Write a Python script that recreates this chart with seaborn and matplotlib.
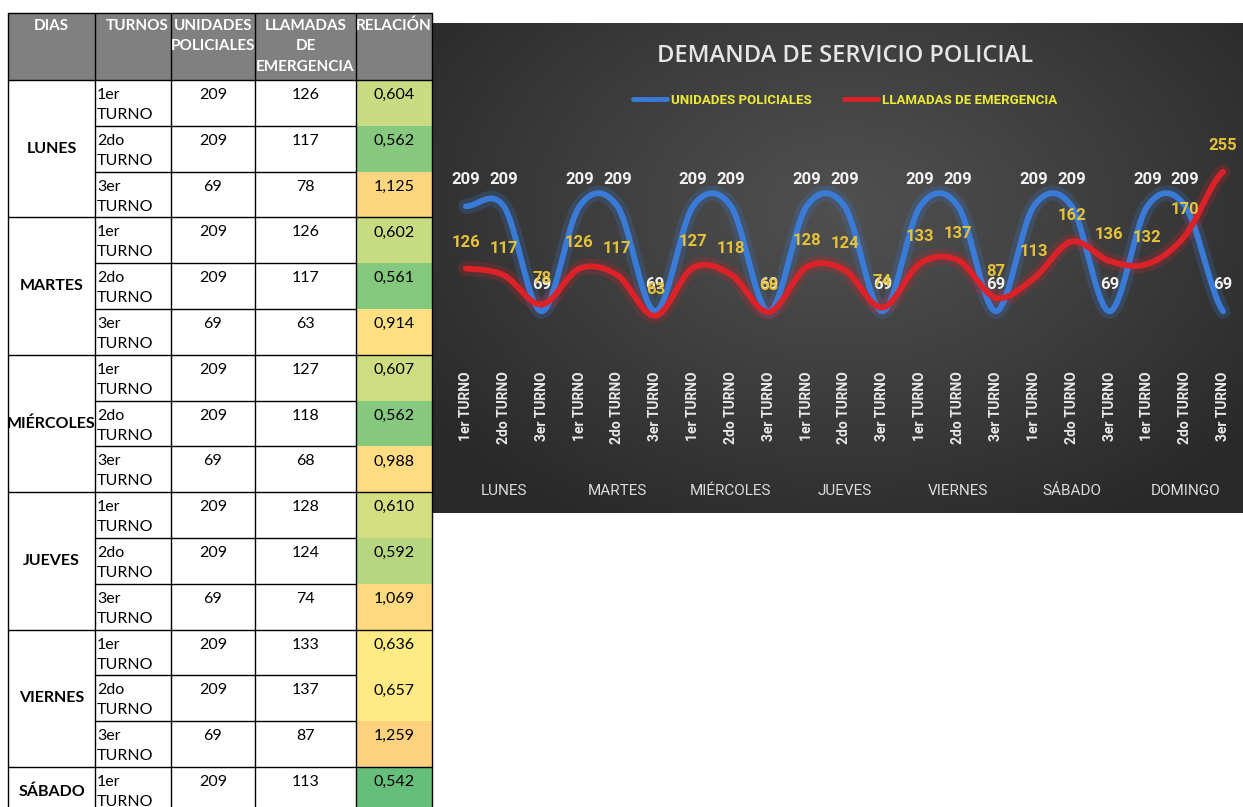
import numpy as np
import pandas as pd
import matplotlib
matplotlib.use("Agg")
import matplotlib.pyplot as plt
import seaborn as sns
from matplotlib.patches import Rectangle
from matplotlib.lines import Line2D

# ---------------- data ----------------
dias = ["LUNES", "MARTES", "MIÉRCOLES", "JUEVES", "VIERNES", "SÁBADO", "DOMINGO"]
turnos = ["1er TURNO", "2do TURNO", "3er TURNO"]
unidades = [209, 209, 69, 209, 209, 69, 209, 209, 69, 209, 209, 69,
            209, 209, 69, 209, 209, 69, 209, 209, 69]
llamadas = [126, 117, 78, 126, 117, 63, 127, 118, 68, 128, 124, 74,
            133, 137, 87, 113, 162, 136, 132, 170, 255]

tabla_dias = ["LUNES", "MARTES", "MIÉRCOLES", "JUEVES", "VIERNES", "SÁBADO"]
tabla_turnos = ["1er\nTURNO", "2do\nTURNO", "3er\nTURNO"]
tabla_unidades = [209, 209, 69, 209, 209, 69, 209, 209, 69, 209, 209, 69, 209, 209, 69, 209]
tabla_llamadas = [126, 117, 78, 126, 117, 63, 127, 118, 68, 128, 124, 74, 133, 137, 87, 113]
tabla_relacion = [0.604, 0.562, 1.125, 0.602, 0.561, 0.914, 0.607, 0.562, 0.988,
                  0.610, 0.592, 1.069, 0.636, 0.657, 1.259, 0.542]
encabezados = ["DIAS", "TURNOS", "UNIDADES\nPOLICIALES", "LLAMADAS\nDE\nEMERGENCIA", "RELACIÓN"]

sns.set_theme(style="white")
NARROW = ["Roboto", "DejaVu Sans"]
TABLE_FONT = ["Lato", "DejaVu Sans"]

W, H = 1243, 807
fig = plt.figure(figsize=(W / 100, H / 100), dpi=100)
fig.patch.set_facecolor("white")

# background axes in pixel coordinates
bg = fig.add_axes([0, 0, 1, 1])
bg.set_xlim(0, W)
bg.set_ylim(H, 0)
bg.axis("off")

# ---------------- chart background (radial gradient) ----------------
cx0, cx1, cy0, cy1 = 432, 1243, 23, 513
gx = np.linspace(cx0, cx1, 400)
gy = np.linspace(cy0, cy1, 250)
GX, GY = np.meshgrid(gx, gy)
d = np.sqrt(((GX - 845) / 520) ** 2 + ((GY - 210) / 360) ** 2)
d = np.clip(d, 0, 1)
val = (0x50 + (0x29 - 0x50) * d ** 1.1) / 255.0
img = np.dstack([val, val, val])
bg.imshow(img, extent=(cx0, cx1, cy1, cy0), aspect="auto", zorder=0, interpolation="bilinear")
bg.set_xlim(0, W)
bg.set_ylim(H, 0)

# ---------------- table ----------------
colx = [8, 95, 171, 255, 356, 432]
head_top, head_bot = 13, 80
row_h = 45.8
nrows = len(tabla_relacion)

ratios = np.array(llamadas) / np.array(unidades)
rmin, rmid, rmax = ratios.min(), np.median(ratios), ratios.max()
green = np.array([0x63, 0xBE, 0x7B]) / 255
yellow = np.array([0xFF, 0xEB, 0x84]) / 255
red = np.array([0xF8, 0x69, 0x6B]) / 255


def scale_color(v):
    if v <= rmid:
        t = np.clip((v - rmin) / (rmid - rmin), 0, 1)
        return green + t * (yellow - green)
    t = np.clip((v - rmid) / (rmax - rmid), 0, 1)
    return yellow + t * (red - yellow)


bg.add_patch(Rectangle((colx[0], head_top), colx[-1] - colx[0], head_bot - head_top,
                       facecolor="#808080", edgecolor="none", zorder=1))
for i, v in enumerate(tabla_relacion):
    top = head_bot + i * row_h
    bg.add_patch(Rectangle((colx[4], top), colx[5] - colx[4], row_h,
                           facecolor=scale_color(v), edgecolor="none", zorder=1))

lw = 1.0
bottom = H + 5
for x in colx:
    bg.plot([x, x], [head_top, bottom], color="black", lw=lw, zorder=3)
bg.plot([colx[0], colx[-1]], [head_top, head_top], color="black", lw=lw, zorder=3)
bg.plot([colx[0], colx[-1]], [head_bot, head_bot], color="black", lw=lw, zorder=3)
for i in range(1, nrows + 1):
    y = head_bot + i * row_h
    if i % 3 == 0:
        bg.plot([colx[0], colx[-1]], [y, y], color="black", lw=lw, zorder=3)
    else:
        bg.plot([colx[1], colx[4]], [y, y], color="black", lw=lw, zorder=3)

# header text
hfs = 11
bg.text((colx[0] + colx[1]) / 2, 26, encabezados[0], ha="center", va="center", color="white",
        fontsize=hfs, fontweight="bold", family=TABLE_FONT, zorder=4)
bg.text(colx[2] - 2, 26, encabezados[1], ha="right", va="center", color="white",
        fontsize=hfs, fontweight="bold", family=TABLE_FONT, zorder=4)
for c in (2, 3, 4):
    for j, line in enumerate(encabezados[c].split("\n")):
        bg.text((colx[c] + colx[c + 1]) / 2, 26 + j * 20.5, line, ha="center", va="center",
                color="white", fontsize=hfs, fontweight="bold", family=TABLE_FONT, zorder=4)

# body
bfs = 11.5
for i in range(nrows):
    top = head_bot + i * row_h
    t1, t2 = tabla_turnos[i % 3].split("\n")
    bg.text(colx[1] + 2, top + 15, t1, ha="left", va="center", fontsize=bfs,
            family=TABLE_FONT, color="black", zorder=4)
    bg.text(colx[1] + 2, top + 35, t2, ha="left", va="center", fontsize=bfs,
            family=TABLE_FONT, color="black", zorder=4)
    bg.text((colx[2] + colx[3]) / 2, top + 15, str(tabla_unidades[i]), ha="center", va="center",
            fontsize=bfs, family=TABLE_FONT, color="black", zorder=4)
    bg.text((colx[3] + colx[4]) / 2, top + 15, str(tabla_llamadas[i]), ha="center", va="center",
            fontsize=bfs, family=TABLE_FONT, color="black", zorder=4)
    bg.text((colx[4] + colx[5]) / 2, top + 15, f"{tabla_relacion[i]:.3f}".replace(".", ","),
            ha="center", va="center", fontsize=bfs, family=TABLE_FONT, color="black", zorder=4)

for k, dname in enumerate(tabla_dias):
    top = head_bot + 3 * k * row_h
    yc = top + 1.5 * row_h
    if yc > H - 10:
        yc = top + row_h * 0.55
    bg.text((colx[0] + colx[1]) / 2, yc, dname, ha="center", va="center", fontsize=bfs,
            fontweight="bold", family=TABLE_FONT, color="black", zorder=4)

# ---------------- chart ----------------
def smooth(y, n=40):
    y = np.asarray(y, float)
    P = np.concatenate([[y[0]], y, [y[-1]]])
    xs, ys = [], []
    t = np.linspace(0, 1, n, endpoint=False)
    h00 = 2 * t ** 3 - 3 * t ** 2 + 1
    h10 = t ** 3 - 2 * t ** 2 + t
    h01 = -2 * t ** 3 + 3 * t ** 2
    h11 = t ** 3 - t ** 2
    for i in range(len(y) - 1):
        p0, p1, p2, p3 = P[i], P[i + 1], P[i + 2], P[i + 3]
        m1, m2 = (p2 - p0) / 2, (p3 - p1) / 2
        xs.append(i + t)
        ys.append(h00 * p1 + h10 * m1 + h01 * p2 + h11 * m2)
    xs.append([len(y) - 1])
    ys.append([y[-1]])
    return np.concatenate(xs), np.concatenate(ys)


px_l, px_r, py_t, py_b = 447, 1242, 138, 363
ax = fig.add_axes([px_l / W, 1 - py_b / H, (px_r - px_l) / W, (py_b - py_t) / H])
ax.set_facecolor("none")

series = [("UNIDADES POLICIALES", unidades, "#3a7bd8", "#f2f2f2"),
          ("LLAMADAS DE EMERGENCIA", llamadas, "#dc2229", "#e6c23a")]
for name, vals, col, lcol in series:
    sx, sy = smooth(vals)
    df = pd.DataFrame({"x": sx, "y": sy})
    sns.lineplot(data=df, x="x", y="y", ax=ax, color=col, lw=11, alpha=0.22,
                 sort=False, estimator=None, zorder=2)
    sns.lineplot(data=df, x="x", y="y", ax=ax, color=col, lw=4.2,
                 sort=False, estimator=None, zorder=3)

for name, vals, col, lcol in series:
    for i, v in enumerate(vals):
        ax.annotate(str(v), (i, v), xytext=(0, 19), textcoords="offset points",
                    ha="center", va="center", color=lcol, fontsize=12,
                    fontweight="bold", family=NARROW, zorder=5)

ax.set_xlim(-0.5, 20.5)
ax.set_ylim(0, 300)
ax.set_xlabel("")
ax.set_ylabel("")
ax.set_yticks([])
ax.set_xticks(range(21))
ax.set_xticklabels(turnos * 7, rotation=90, color="#e8e8e8", fontsize=10,
                   fontweight="bold", family=NARROW)
ax.tick_params(axis="x", length=0, pad=6)
for s in ax.spines.values():
    s.set_visible(False)

trans = ax.get_xaxis_transform()
for k, dname in enumerate(dias):
    ax.text(3 * k + 1, -(491 - py_b) / (py_b - py_t), dname, transform=trans, ha="center",
            va="center", color="#dcdcdc", fontsize=11, family=NARROW, clip_on=False)

fig.text(845 / W, 1 - 56 / H, "DEMANDA DE SERVICIO POLICIAL", ha="center", va="center",
         color="#e6e6e6", fontsize=17, family=["Open Sans", "DejaVu Sans"], fontweight="semibold")

handles = [Line2D([], [], color="#3a7bd8", lw=3.5), Line2D([], [], color="#dc2229", lw=3.5)]
leg = fig.legend(handles, [s[0] for s in series], loc="center", bbox_to_anchor=(845 / W, 1 - 100 / H),
                 ncol=2, frameon=False, handlelength=2.6, handletextpad=0.3, columnspacing=2.4,
                 prop={"family": NARROW, "size": 9.5, "weight": "bold"})
for t in leg.get_texts():
    t.set_color("#eaea3a")

fig.savefig("out.png", dpi=100)
